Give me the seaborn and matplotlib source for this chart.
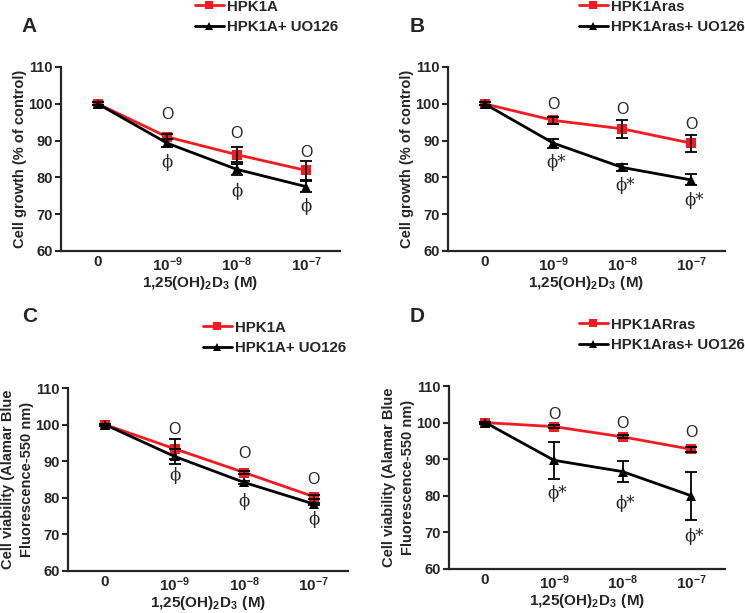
import matplotlib
matplotlib.use("Agg")
import matplotlib.pyplot as plt
from matplotlib.lines import Line2D
import seaborn as sns
import numpy as np
import pandas as pd

sns.set_style("ticks")
plt.rcParams['font.family'] = ['Liberation Sans', 'DejaVu Sans']
plt.rcParams['font.weight'] = 'bold'
plt.rcParams['mathtext.fontset'] = 'custom'
plt.rcParams['mathtext.bf'] = 'Liberation Sans:bold'
plt.rcParams['mathtext.rm'] = 'Liberation Sans:bold'

RED = '#f41a1f'

doses = ['0', '1e-9', '1e-8', '1e-7']
dose_labels = [r'$\mathbf{0}$', r'$\mathbf{10^{-9}}$', r'$\mathbf{10^{-8}}$', r'$\mathbf{10^{-7}}$']
xlabel = r'$\mathbf{1{,}25(OH)_2D_3\ (M)}$'

# panel A - cell growth, HPK1A
a_ctrl = [100, 91.0, 86.2, 81.9]
a_ctrl_err = [0.4, 0.7, 2.0, 2.5]
a_uo = [100, 89.3, 82.2, 77.5]
a_uo_err = [0.4, 1.1, 1.5, 1.4]
a_circ = [97.0, 92.0, 86.9]
a_phi = [84.0, 76.2, 72.0]

# panel B - cell growth, HPK1Aras
b_ctrl = [100, 95.5, 93.2, 89.3]
b_ctrl_err = [0.4, 1.0, 2.4, 2.3]
b_uo = [100, 89.3, 82.7, 79.3]
b_uo_err = [0.4, 1.2, 1.0, 1.5]
b_circ = [99.9, 98.5, 94.5]
b_phi = [84.0, 77.8, 73.7]

# panel C - cell viability, HPK1A
c_ctrl = [100, 93.4, 86.9, 80.3]
c_ctrl_err = [0.3, 2.8, 0.5, 0.5]
c_uo = [100, 91.3, 84.2, 78.3]
c_uo_err = [0.3, 2.0, 0.5, 0.4]
c_circ = [98.6, 92.0, 85.0]
c_phi = [86.0, 79.0, 74.0]

# panel D - cell viability, HPK1Aras
d_ctrl = [100, 98.9, 96.1, 92.7]
d_ctrl_err = [0.3, 0.5, 0.4, 0.6]
d_uo = [100, 89.7, 86.6, 80.0]
d_uo_err = [0.3, 5.1, 2.9, 6.5]
d_circ = [102.1, 99.7, 97.2]
d_phi = [80.6, 77.9, 69.0]

growth_label = 'Cell growth (% of control)'
viab_label = 'Cell viability (Alamar Blue\nFluorescence-550 nm)'

panels = [
    dict(letter='A', ctrl=a_ctrl, ctrl_err=a_ctrl_err, uo=a_uo, uo_err=a_uo_err,
         circ=a_circ, phi=a_phi, star=False, names=['HPK1A', 'HPK1A+ UO126'],
         ylabel=growth_label, rect=[61, 67, 340, 251], leg=(195, 17), letter_xy=(21, 27)),
    dict(letter='B', ctrl=b_ctrl, ctrl_err=b_ctrl_err, uo=b_uo, uo_err=b_uo_err,
         circ=b_circ, phi=b_phi, star=True, names=['HPK1Aras', 'HPK1Aras+ UO126'],
         ylabel=growth_label, rect=[448, 67, 725, 251], leg=(579, 17), letter_xy=(410, 26)),
    dict(letter='C', ctrl=c_ctrl, ctrl_err=c_ctrl_err, uo=c_uo, uo_err=c_uo_err,
         circ=c_circ, phi=c_phi, star=False, names=['HPK1A', 'HPK1A+ UO126'],
         ylabel=viab_label, rect=[68, 388, 348, 571], leg=(203, 338), letter_xy=(22, 317)),
    dict(letter='D', ctrl=d_ctrl, ctrl_err=d_ctrl_err, uo=d_uo, uo_err=d_uo_err,
         circ=d_circ, phi=d_phi, star=True, names=['HPK1ARras', 'HPK1Aras+ UO126'],
         ylabel=viab_label, rect=[449, 386, 725, 569], leg=(579, 335), letter_xy=(410, 317)),
]

W, H = 745, 613
fig = plt.figure(figsize=(W / 100, H / 100), dpi=100)

for p in panels:
    l, t, r, b = p['rect']
    ax = fig.add_axes([l / W, 1 - b / H, (r - l) / W, (b - t) / H])
    df = pd.DataFrame({
        'x': list(range(4)) * 2,
        'value': p['ctrl'] + p['uo'],
        'group': [p['names'][0]] * 4 + [p['names'][1]] * 4,
    })
    sns.lineplot(data=df, x='x', y='value', hue='group', style='group',
                 palette=[RED, 'black'], markers=['s', '^'], dashes=False,
                 linewidth=2.0, markersize=6.5, markeredgewidth=0, ax=ax, legend=False)
    xs = np.arange(4)
    ax.errorbar(xs, p['ctrl'], yerr=p['ctrl_err'], fmt='none', ecolor='black',
                elinewidth=1.3, capsize=4.5, capthick=1.3, zorder=3)
    ax.errorbar(xs, p['uo'], yerr=p['uo_err'], fmt='none', ecolor='black',
                elinewidth=1.3, capsize=4.5, capthick=1.3, zorder=3)

    for i, yv in enumerate(p['circ']):
        ax.text(i + 1, yv, 'O', ha='center', va='center', fontsize=11.5,
                fontweight='normal', family=['Liberation Sans'])
    for i, yv in enumerate(p['phi']):
        if p['star']:
            ax.annotate('ϕ*', (i + 1, yv), xytext=(-5, 0), textcoords='offset points',
                        ha='left', va='center', fontsize=12, fontweight='normal',
                        family=['DejaVu Serif'])
        else:
            ax.text(i + 1, yv, 'ϕ', ha='center', va='center', fontsize=12,
                    fontweight='normal', family=['DejaVu Serif'])

    ax.set_xlim(-0.53, 3.49)
    ax.set_ylim(60, 110)
    ax.set_yticks([60, 70, 80, 90, 100, 110])
    ax.set_xticks(xs)
    ax.set_xticklabels(dose_labels, fontsize=11)
    ax.tick_params(axis='x', length=0, pad=3)
    ax.tick_params(axis='y', length=4, width=1.5, labelsize=10.5, pad=2)
    for lab in ax.get_yticklabels():
        lab.set_fontweight('bold')
    ax.set_xlabel(xlabel, fontsize=11, labelpad=0.5)
    ax.set_ylabel(p['ylabel'], fontsize=10.5, fontweight='bold', labelpad=1,
                  linespacing=1.45)
    sns.despine(ax=ax)
    for s in ['left', 'bottom']:
        ax.spines[s].set_linewidth(1.6)

    handles = [
        Line2D([], [], color=RED, marker='s', markersize=6, lw=2.0, markeredgewidth=0),
        Line2D([], [], color='black', marker='^', markersize=6, lw=2.0, markeredgewidth=0),
    ]
    lx, ly = p['leg']
    fig.legend(handles, p['names'], loc='center left', bbox_to_anchor=(lx / W, 1 - ly / H),
               frameon=False, borderpad=0, borderaxespad=0, handlelength=1.9,
               handletextpad=0.25, labelspacing=0.45,
               prop={'family': 'Liberation Sans', 'weight': 'bold', 'size': 10.8})

    tx, ty = p['letter_xy']
    fig.text(tx / W, 1 - ty / H, p['letter'], fontsize=15, fontweight='bold',
             ha='left', va='center')

fig.savefig('out.png', dpi=100)
